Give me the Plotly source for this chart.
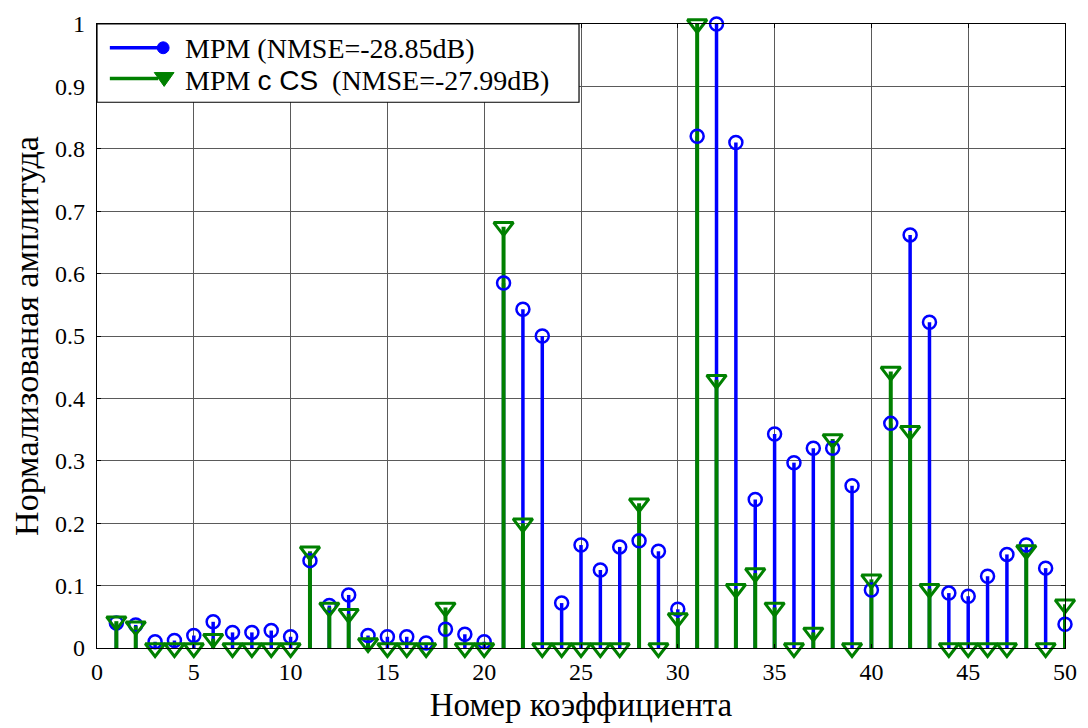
import plotly.graph_objects as go

n = list(range(1, 51))
mpm = [0.040, 0.037, 0.010, 0.012, 0.020, 0.042, 0.025, 0.025, 0.028, 0.018,
       0.140, 0.068, 0.085, 0.020, 0.018, 0.018, 0.008, 0.030, 0.022, 0.010,
       0.585, 0.543, 0.500, 0.072, 0.165, 0.125, 0.162, 0.172, 0.155, 0.062,
       0.820, 1.000, 0.810, 0.238, 0.343, 0.297, 0.320, 0.320, 0.260, 0.093,
       0.360, 0.662, 0.522, 0.088, 0.083, 0.115, 0.150, 0.165, 0.128, 0.038]
mpm_cs = [0.043, 0.035, 0.000, 0.000, 0.000, 0.015, 0.000, 0.000, 0.000, 0.000,
          0.155, 0.065, 0.055, 0.008, 0.000, 0.000, 0.000, 0.065, 0.000, 0.000,
          0.675, 0.200, 0.000, 0.000, 0.000, 0.000, 0.000, 0.232, 0.000, 0.048,
          1.000, 0.430, 0.095, 0.120, 0.065, 0.000, 0.025, 0.335, 0.000, 0.110,
          0.443, 0.348, 0.095, 0.000, 0.000, 0.000, 0.000, 0.157, 0.000, 0.070]

name1 = "MPM (NMSE=-28.85dB)"
name2 = ("MPM <span style='font-family:Liberation Sans'>c CS</span>  (NMSE=-27.99dB)")
x_ticks = list(range(0, 51, 5))
y_ticks = [0, 0.1, 0.2, 0.3, 0.4, 0.5, 0.6, 0.7, 0.8, 0.9, 1]
y_tick_text = ["0", "0.1", "0.2", "0.3", "0.4", "0.5", "0.6", "0.7", "0.8", "0.9", "1"]

BLUE = "#0000FF"
GREEN = "#008000"
FONT = "Liberation Serif, DejaVu Serif, serif"


def stems(xs, ys):
    sx, sy = [], []
    for a, b in zip(xs, ys):
        sx += [a, a, None]
        sy += [0, b, None]
    return sx, sy


fig = go.Figure()
bx, by = stems(n, mpm)
gx, gy = stems(n, mpm_cs)
fig.add_trace(go.Scatter(x=bx, y=by, mode="lines", line=dict(color=BLUE, width=3.5),
                         showlegend=False, hoverinfo="skip", cliponaxis=False))
fig.add_trace(go.Scatter(x=gx, y=gy, mode="lines", line=dict(color=GREEN, width=4),
                         showlegend=False, hoverinfo="skip", cliponaxis=False))
fig.add_trace(go.Scatter(x=n, y=mpm, mode="markers", name="MPM", showlegend=False,
                         marker=dict(symbol="circle-open", size=13, color=BLUE,
                                     line=dict(width=2.5, color=BLUE)),
                         cliponaxis=False))
fig.add_trace(go.Scatter(x=n, y=mpm_cs, mode="markers", name="MPM c CS", showlegend=False,
                         marker=dict(symbol="triangle-down-open", size=17, color=GREEN,
                                     line=dict(width=3, color=GREEN)),
                         cliponaxis=False))

# Manual legend (paper coordinates)
W, H = 980.0, 630.0
def px(p):
    return p / W
def py(p):
    return 1 - p / H

shapes = [
    dict(type="rect", xref="paper", yref="paper", x0=0, x1=px(488), y0=py(79), y1=1,
         fillcolor="white", line=dict(color="black", width=1.2), layer="above"),
    dict(type="line", xref="paper", yref="paper", x0=px(13), x1=px(62), y0=py(24), y1=py(24),
         line=dict(color=BLUE, width=3.5), layer="above"),
    dict(type="circle", xref="paper", yref="paper", x0=px(61), x1=px(73), y0=py(30), y1=py(18),
         fillcolor=BLUE, line=dict(color=BLUE, width=1), layer="above"),
    dict(type="line", xref="paper", yref="paper", x0=px(13), x1=px(62), y0=py(55), y1=py(55),
         line=dict(color=GREEN, width=3.5), layer="above"),
    dict(type="path", xref="paper", yref="paper",
         path=f"M {px(58)},{py(49)} L {px(78)},{py(49)} L {px(68)},{py(63)} Z",
         fillcolor=GREEN, line=dict(color=GREEN, width=1), layer="above"),
]
annotations = [
    dict(xref="paper", yref="paper", x=px(87), y=py(25), text=name1, showarrow=False,
         xanchor="left", yanchor="middle", font=dict(family=FONT, size=28, color="black")),
    dict(xref="paper", yref="paper", x=px(87), y=py(57), text=name2, showarrow=False,
         xanchor="left", yanchor="middle", font=dict(family=FONT, size=28, color="black")),
]

axis_common = dict(showline=True, linecolor="black", linewidth=1.2, mirror="ticks",
                   ticks="inside", ticklen=4, tickcolor="black",
                   showgrid=True, gridcolor="rgb(90,90,90)", gridwidth=1,
                   zeroline=False, tickfont=dict(family=FONT, size=24, color="black"))

fig.update_layout(
    width=1088, height=728,
    margin=dict(l=97, r=11, t=18, b=80),
    paper_bgcolor="white", plot_bgcolor="white",
    showlegend=False,
    xaxis=dict(range=[0, 50], tickvals=x_ticks, ticklabelstandoff=2,
               title=dict(text="Номер коэффициента", font=dict(family=FONT, size=33, color="black"),
                          standoff=8),
               **axis_common),
    yaxis=dict(range=[0, 1], tickvals=y_ticks, ticktext=y_tick_text, ticklabelstandoff=6,
               title=dict(text="Нормализованая амплитуда", font=dict(family=FONT, size=34, color="black"),
                          standoff=6),
               **axis_common),
    shapes=shapes,
    annotations=annotations,
)

fig.write_html("out.html")
